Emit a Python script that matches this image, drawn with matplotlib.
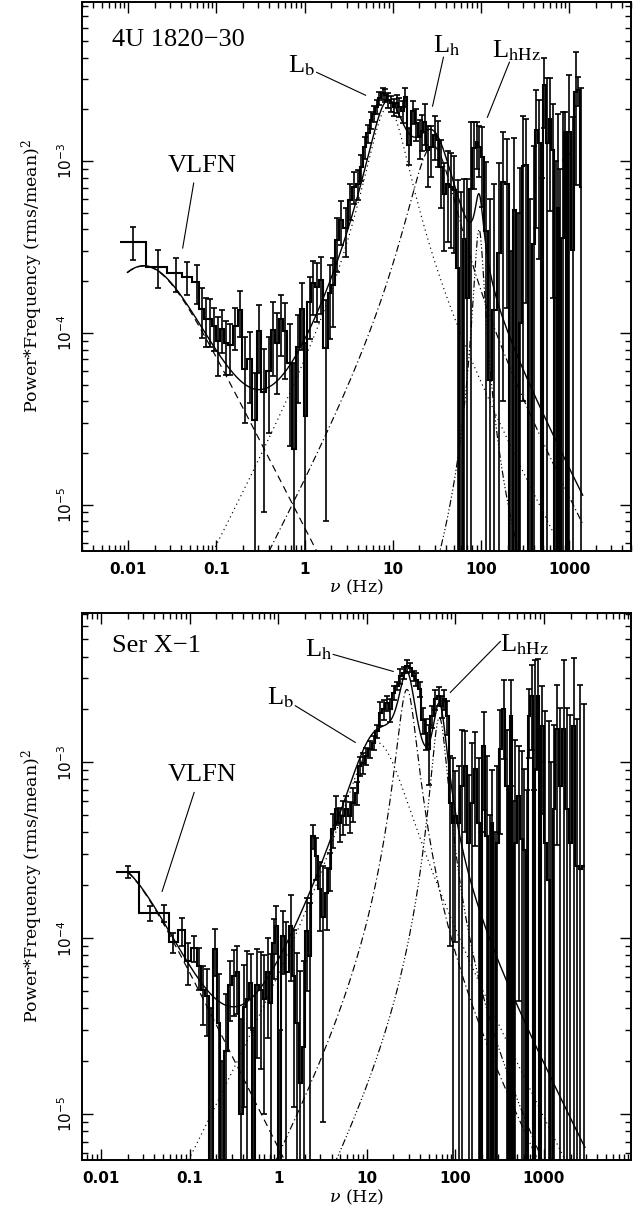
"""
Power spectra (nu*P_nu) of 4U 1820-30 and Ser X-1 with multi-Lorentzian fits.
"""
import numpy as np
import matplotlib
matplotlib.use("Agg")
import matplotlib.pyplot as plt
from matplotlib.ticker import FixedLocator, LogLocator, NullFormatter, FuncFormatter

# ---------------- 4U 1820-30 (top) ----------------
top_nu = [0.0113, 0.022, 0.035, 0.047, 0.060,
          0.069, 0.077, 0.085, 0.095, 0.105, 0.117, 0.130, 0.144, 0.163, 0.187,
          0.209, 0.238, 0.271, 0.304, 0.343, 0.391, 0.438, 0.486, 0.535, 0.604,
          0.676, 0.757, 0.840, 0.933, 1.018, 1.14, 1.24, 1.39, 1.54, 1.73,
          1.92, 2.09, 2.32, 2.60, 2.91, 3.23, 3.59, 4.02,
          4.38, 4.78, 5.21, 5.69, 6.05, 6.59, 7.06, 7.71, 8.26, 8.78,
          9.58, 10.3, 11.1, 11.9, 13.0, 13.9, 15.2, 16.9, 18.4, 20.1,
          21.5, 22.9, 24.9, 27.2, 29.7, 32.4, 35.3, 38.5, 42.0, 45.8, 50.0,
          54.5, 59.3, 64.5, 70.0, 76.0, 84.2, 90.0, 96.0,
          103, 115, 128, 142, 158, 177, 197, 219, 238, 262,
          280, 296, 324, 355, 395, 425, 455, 490, 522, 565,
          605, 650, 700, 740, 790, 840, 890, 950, 1003, 1090,
          1190, 1270, 1361]
top_pow = [3.4e-4, 2.42e-4, 2.23e-4, 2.12e-4, 1.98e-4,
           1.38e-4, 1.21e-4, 1.2e-4, 1.09e-4, 0.9e-4, 1.06e-4, 0.87e-4, 0.85e-4, 1.1e-4, 1.35e-4,
           0.62e-4, 0.70e-4, 0.31e-4, 1.02e-4, 0.45e-4, 0.6e-4, 1.04e-4, 0.87e-4, 1.2e-4, 1.02e-4,
           0.67e-4, 0.21e-4, 0.83e-4, 1.38e-4, 0.33e-4, 1.52e-4, 1.95e-4, 1.86e-4, 2.03e-4, 0.82e-4,
           1.7e-4, 1.9e-4, 3.47e-4, 4.54e-4, 4.06e-4, 5.93e-4, 7.1e-4, 7.4e-4,
           9.3e-4, 1.21e-3, 1.45e-3, 1.73e-3, 1.89e-3, 2.07e-3, 2.32e-3, 2.48e-3, 2.42e-3, 2.27e-3,
           2.17e-3, 2.07e-3, 2.17e-3, 2.07e-3, 1.95e-3, 2.37e-3, 1.25e-3, 1.95e-3, 1.66e-3, 1.38e-3,
           1.5e-3, 1.7e-3, 1.16e-3, 1.21e-3, 1.42e-3, 1.32e-3, 9.3e-4, 6.4e-4, 7.4e-4, 7.1e-4, 6.8e-4,
           2.4e-4, -1.0e-4, 3.5e-4, 1.6e-4, 6.9e-4, 1.19e-3, 1.3e-3, 1.21e-3,
           1.06e-3, 3.9e-4, 5.3e-5, 1.36e-4, 2.9e-4, 7.6e-4, 7.4e-4, -3e-4, 5.2e-4, -2e-4,
           1.14e-4, 9.4e-4, 9.5e-4, -2e-4, 3.3e-4, 1.51e-3, 1.27e-3, -2e-4, 2.77e-3, 1.27e-3,
           1.77e-3, 1.16e-3, -2e-4, 5.3e-4, -3e-4, 3.55e-4, 1.48e-3, -3e-4, 1.48e-3, 3.04e-4,
           2.53e-3, 2.59e-3, 7.1e-4]
top_err = [0.74e-4, 0.6e-4, 0.5e-4, 0.45e-4, 0.5e-4,
           0.45e-4, 0.38e-4, 0.37e-4, 0.31e-4, 0.34e-4, 0.3e-4, 0.3e-4, 0.28e-4, 0.3e-4, 0.4e-4,
           0.32e-4, 0.31e-4, 0.27e-4, 0.44e-4, 0.36e-4, 0.34e-4, 0.48e-4, 0.43e-4, 0.47e-4, 0.48e-4,
           0.45e-4, 0.46e-4, 0.44e-4, 0.58e-4, 0.54e-4, 0.6e-4, 0.68e-4, 0.7e-4, 0.75e-4, 0.74e-4,
           0.78e-4, 0.82e-4, 1.2e-4, 1.3e-4, 1.3e-4, 1.4e-4, 1.5e-4, 1.5e-4,
           1.6e-4, 1.8e-4, 1.8e-4, 2.0e-4, 2.0e-4, 2.0e-4, 2.0e-4, 2.0e-4, 2.2e-4, 2.2e-4,
           2.4e-4, 2.4e-4, 2.6e-4, 2.6e-4, 2.8e-4, 3.0e-4, 3.0e-4, 3.0e-4, 3.5e-4, 3.5e-4,
           3.5e-4, 4.5e-4, 4.5e-4, 4.0e-4, 4.0e-4, 4.0e-4, 4.0e-4, 3.4e-4, 4.0e-4, 4.0e-4, 3.9e-4,
           5.4e-4, 7.6e-4, 4.4e-4, 6.3e-4, 1.0e-3, 5.0e-4, 4.0e-4, 4.0e-4,
           5.2e-4, 6.0e-4, 5.5e-4, 6.0e-4, 6.8e-4, 7.2e-4, 6.0e-4, 6.0e-4, 8.4e-4, 7.0e-4,
           8.0e-4, 9.0e-4, 8.0e-4, 8.0e-4, 9.0e-4, 1.1e-3, 1.0e-3, 1.0e-3, 1.2e-3, 1.76e-3,
           1.26e-3, 1.0e-3, 1.2e-3, 1.36e-3, 1.2e-3, 1.58e-3, 4.6e-4, 1.4e-3, 1.68e-3, 1.5e-3,
           1.8e-3, 5.0e-4, 1.94e-3]

# ---------------- Ser X-1 (bottom) ----------------
bot_nu = [0.020, 0.036, 0.051, 0.0657, 0.0815, 0.097, 0.1124, 0.129, 0.1433, 0.159,
          0.1734, 0.194, 0.2154, 0.231, 0.2585, 0.287, 0.313, 0.347, 0.379, 0.413,
          0.450, 0.491, 0.526, 0.574, 0.637, 0.695, 0.758, 0.826, 0.886, 0.949,
          1.035, 1.129, 1.231, 1.39, 1.49, 1.625, 1.773, 1.933, 2.108, 2.26,
          2.465, 2.688, 2.93, 3.196, 3.548, 3.80, 4.147, 4.523, 4.932, 5.379,
          5.866, 6.40, 6.98, 7.74, 8.30, 9.05, 9.87, 10.95, 11.95, 13.0,
          14.2, 15.5, 16.9, 18.4, 20.1, 21.9, 23.9, 26.1, 28.4, 31.0,
          33.8, 36.3, 39.5, 43.1, 47.0, 50.0, 54.5, 59.4, 64.8, 70.7,
          75.1, 80.5, 87.8, 94.1, 100, 109, 119, 130, 141, 154,
          168, 184, 196, 209, 228, 244, 260, 278, 296, 322,
          352, 384, 405, 426, 450, 476, 520, 567, 602, 640,
          674, 735, 765, 802, 852, 900, 953, 1040, 1134, 1210,
          1292, 1409, 1536, 1676, 1828, 1993, 2174, 2371, 2585, 2820]
bot_pow = [2.38e-4, 1.39e-4, 1.39e-4, 9.55e-5, 1.11e-4, 7.46e-5, 8.8e-5, 6.97e-5, 5.1e-5, 4.73e-5,
           -5e-6, 8.7e-5, 3.3e-5, -1e-5, 2.3e-5, 5.4e-5, 6.1e-5, 6.4e-5, 1.0e-5, 4.1e-5,
           4.5e-5, 5.6e-5, -5e-6, 5.4e-5, 5.1e-5, 4.5e-5, 6.4e-5, 4.3e-5, 9.4e-5, 1.17e-4,
           -1e-5, 1.03e-4, 6.4e-5, 1.17e-4, 6.1e-5, 3.3e-5, 1.5e-5, 2.4e-5, 1.1e-4, 7.9e-5,
           3.81e-4, 2.94e-4, 1.9e-4, 1.33e-4, 1.82e-4, 2.47e-4, 4.16e-4, 5.41e-4, 4.54e-4, 4.95e-4,
           5.41e-4, 4.95e-4, 5.9e-4, 6.73e-4, 9.53e-4, 9.96e-4, 1.09e-3, 1.19e-3, 1.29e-3, 1.5e-3,
           1.91e-3, 2.0e-3, 2.18e-3, 2.0e-3, 2.49e-3, 2.72e-3, 3.09e-3, 3.23e-3, 3.53e-3, 3.45e-3,
           3.09e-3, 2.96e-3, 2.60e-3, 1.75e-3, 1.47e-3, 1.19e-3, 1.83e-3, 2.28e-3, 2.38e-3, 2.09e-3,
           2.28e-3, 1.83e-3, 5.9e-4, 4.54e-4, 4.95e-4, 4.54e-4, 7.34e-4, 9.53e-4, 3.5e-4, 5.9e-4,
           9.13e-4, 4.54e-4, -2e-4, 1.24e-3, 3.81e-4, -2e-4, 4.54e-4, -3e-4, 3.5e-4, 1.19e-3,
           2.0e-3, 7.34e-4, -2e-4, 1.83e-3, -3e-4, 3.5e-4, 6.44e-4, 3.65e-4, 3.2e-4, -3e-4,
           1.83e-3, 2.38e-3, -3e-4, 9.13e-4, 2.38e-3, -2e-4, 1.61e-3, 3.5e-4, 2.16e-4, -3e-4,
           5.41e-4, 1.54e-3, 7.34e-4, 1.54e-3, 5.41e-4, 3.5e-4, 1.61e-3, 2.58e-4, 2.47e-4, 2.58e-4]
bot_err = [0.19e-4, 0.13e-4, 0.15e-4, 1.25e-5, 2.0e-5, 2.0e-5, 1.5e-5, 1.9e-5, 1.86e-5, 1.94e-5,
           4.5e-5, 2.6e-5, 3.0e-5, 3.0e-5, 2.5e-5, 2.0e-5, 2.5e-5, 2.7e-5, 2.5e-5, 3.0e-5,
           4.0e-5, 2.5e-5, 3.5e-5, 3.3e-5, 3.3e-5, 3.5e-5, 3.7e-5, 3.8e-5, 3.5e-5, 3.6e-5,
           4.0e-5, 4.0e-5, 6.0e-5, 6.0e-5, 5.0e-5, 5.0e-5, 5.0e-5, 5.0e-5, 6.0e-5, 8.0e-5,
           6.0e-5, 8.0e-5, 8.0e-5, 1.24e-4, 7.0e-5, 6.0e-5, 9.0e-5, 1.0e-4, 1.0e-4, 1.1e-4,
           1.0e-4, 1.0e-4, 1.3e-4, 1.0e-4, 1.2e-4, 1.4e-4, 1.2e-4, 1.3e-4, 1.2e-4, 1.3e-4,
           3.0e-4, 2.5e-4, 2.2e-4, 3.0e-4, 2.3e-4, 1.5e-4, 3.0e-4, 2.5e-4, 3.0e-4, 2.0e-4,
           2.0e-4, 2.5e-4, 2.5e-4, 3.0e-4, 3.0e-4, 4.5e-4, 2.6e-4, 3.0e-4, 3.0e-4, 3.0e-4,
           3.0e-4, 4.0e-4, 5.0e-4, 6.0e-4, 4.0e-4, 5.0e-4, 8.0e-4, 5.5e-4, 5.0e-4, 7.0e-4,
           5.8e-4, 6.0e-4, 6.0e-4, 7.0e-4, 7.0e-4, 7.0e-4, 4.5e-4, 7.0e-4, 6.0e-4, 8.0e-4,
           9.6e-4, 8.0e-4, 9.0e-4, 1.1e-3, 9.0e-4, 1.0e-3, 6.0e-4, 8.0e-4, 6.0e-4, 1.0e-3,
           7.7e-4, 1.2e-3, 1.0e-3, 2.9e-3, 1.47e-3, 1.2e-3, 1.1e-3, 1.6e-3, 1.5e-3, 1.3e-3,
           1.1e-3, 1.2e-3, 1.3e-3, 2.3e-3, 1.5e-3, 1.5e-3, 2.3e-3, 1.5e-3, 2.5e-3, 1.9e-3]

# fit components: (nu_max [Hz], Q, nu*P_nu at nu_max)
top_vlfn = (0.015, 0.0, 2.45e-4)
top_lb = (8.8, 0.92, 2.07e-3)
top_lh = (28.3, 0.8, 1.23e-3)
top_lhhz = (95.0, 4.0, 4.0e-4)
bot_vlfn = (0.012, 0.0, 2.7e-4)
bot_lb = (13.0, 0.52, 1.3e-3)
bot_lh = (28.4, 2.0, 2.6e-3)
bot_lhhz = (66.0, 2.5, 1.8e-3)

DASH = (0, (6, 4))
DOT = (0, (1, 3))
DASHDOT = (0, (6, 2.5, 1, 2.5))
DASHDOT3 = (0, (6, 2, 1, 2, 1, 2, 1, 2))


def lorentz(nu, numax, q, peak):
    delta = numax / np.sqrt(1 + 4 * q * q)
    nu0 = 2 * q * delta
    f = lambda x: x * delta / (delta ** 2 + (x - nu0) ** 2)
    return peak * f(nu) / f(numax)


def draw_data(ax, nu, pw, err):
    nu = np.asarray(nu)
    pw = np.asarray(pw)
    err = np.asarray(err)
    mid = np.sqrt(nu[1:] * nu[:-1])
    edges = np.concatenate([[nu[0] ** 2 / mid[0]], mid, [nu[-1] ** 2 / mid[-1]]])
    floor = 1e-8
    pc = np.clip(pw, floor, None)
    lo = np.clip(pw - err, floor, None)
    hi = pw + err
    ax.stairs(pc, edges, baseline=None, color="k", lw=1.5)
    ax.errorbar(nu, pc, yerr=[pc - lo, hi - pc], fmt="none", ecolor="k",
                elinewidth=1.2, capsize=2.2, capthick=1.2)


def style_axes(ax, xlim, ylim):
    ax.set_xscale("log")
    ax.set_yscale("log")
    ax.set_xlim(*xlim)
    ax.set_ylim(*ylim)
    ax.xaxis.set_major_locator(FixedLocator([0.01, 0.1, 1, 10, 100, 1000]))
    ax.xaxis.set_major_formatter(FuncFormatter(lambda v, _: f"{v:g}"))
    ax.xaxis.set_minor_locator(LogLocator(base=10, subs=np.arange(2, 10), numticks=20))
    ax.xaxis.set_minor_formatter(NullFormatter())
    ax.yaxis.set_major_locator(FixedLocator([1e-5, 1e-4, 1e-3]))
    ax.yaxis.set_major_formatter(FuncFormatter(lambda v, _: r"$10^{%d}$" % round(np.log10(v))))
    ax.yaxis.set_minor_locator(LogLocator(base=10, subs=np.arange(2, 10), numticks=20))
    ax.yaxis.set_minor_formatter(NullFormatter())
    ax.tick_params(which="both", direction="in", top=True, right=True, width=1.0, color="k")
    ax.tick_params(which="major", length=8)
    ax.tick_params(which="minor", length=4)
    ax.tick_params(axis="x", pad=8, labelsize=11)
    ax.tick_params(axis="y", pad=5, labelsize=11)
    for lab in ax.get_xticklabels():
        lab.set_fontweight("bold")
    for lab in ax.get_yticklabels():
        lab.set_rotation(90)
        lab.set_va("center")
        lab.set_fontweight("bold")
    for sp in ax.spines.values():
        sp.set_linewidth(1.4)
    ax.set_xlabel(r"$\nu$ (Hz)", fontsize=12.5, family="DejaVu Serif",
                  math_fontfamily="dejavuserif", labelpad=1)
    ax.set_ylabel(r"Power*Frequency (rms/mean)$^2$", fontsize=12.5, family="DejaVu Serif",
                  math_fontfamily="dejavuserif", labelpad=8)


def label(ax, xy_text, xy_a, xy_b, main, sub=None, ha="left"):
    kw = dict(fontsize=19, family="Liberation Serif", math_fontfamily="stix",
              va="baseline", ha=ha)
    txt = main if sub is None else r"L$_{\mathrm{%s}}$" % sub
    ax.text(*xy_text, txt, **kw)
    if xy_a is not None:
        ax.plot([xy_a[0], xy_b[0]], [xy_a[1], xy_b[1]], color="k", lw=0.8)


def draw_model(ax, grid, comps):
    styles = [DASH, DOT, DASHDOT, DASHDOT3]
    total = np.zeros_like(grid)
    for c, ls in zip(comps, styles):
        y = lorentz(grid, *c)
        total += y
        ax.plot(grid, y, color="k", lw=0.85, ls=ls)
    ax.plot(grid, total, color="k", lw=1.0)


fig = plt.figure(figsize=(6.36, 12.18), dpi=100)
ax1 = fig.add_axes([0.129, 0.548, 0.863, 0.450])
ax2 = fig.add_axes([0.129, 0.0476, 0.863, 0.4494])

# top panel
draw_data(ax1, top_nu, top_pow, top_err)
draw_model(ax1, np.logspace(np.log10(0.0098), np.log10(1420), 800),
           [top_vlfn, top_lb, top_lh, top_lhhz])
style_axes(ax1, (0.003, 5000), (5.4e-6, 8.4e-3))
label(ax1, (0.00652, 4.67e-3), None, None, "4U 1820\u221230")
label(ax1, (0.069, 8.63e-4), (0.0553, 7.45e-4), (0.0415, 3.12e-4), "VLFN", ha="center")
label(ax1, (0.642, 3.3e-3), (1.37, 3.29e-3), (4.91, 2.42e-3), "L", "b")
label(ax1, (28.2, 4.3e-3), (37.5, 4.03e-3), (28.2, 2.09e-3), "L", "h")
label(ax1, (134.6, 4.03e-3), (209.7, 3.77e-3), (118, 1.8e-3), "L", "hHz")

# bottom panel
draw_data(ax2, bot_nu, bot_pow, bot_err)
draw_model(ax2, np.logspace(np.log10(0.02), np.log10(2900), 800),
           [bot_vlfn, bot_lb, bot_lh, bot_lhhz])
style_axes(ax2, (0.0061, 9600), (5.5e-6, 7.1e-3))
label(ax2, (0.0133, 4.27e-3), None, None, "Ser X\u22121")
label(ax2, (0.140, 7.8e-4), (0.1124, 6.75e-4), (0.0489, 1.85e-4), "VLFN", ha="center")
label(ax2, (0.751, 2.14e-3), (1.56, 2.1e-3), (7.41, 1.3e-3), "L", "b")
label(ax2, (2.02, 4.0e-3), (4.18, 4.11e-3), (19.9, 3.29e-3), "L", "h")
label(ax2, (322, 4.27e-3), (322, 4.87e-3), (87.8, 2.5e-3), "L", "hHz")

fig.savefig("out.png", dpi=100)
